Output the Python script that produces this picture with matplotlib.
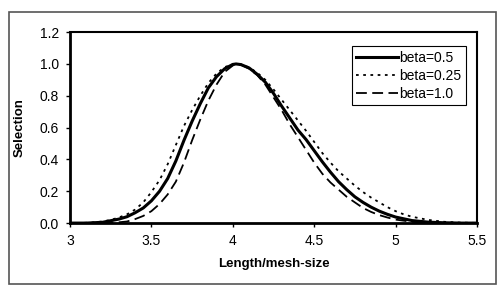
import matplotlib
import matplotlib.pyplot as plt
from matplotlib.patches import Rectangle

matplotlib.use("Agg")
plt.rcParams["font.family"] = ["Liberation Sans", "DejaVu Sans"]

# beta=0.5 (solid)
x_solid = [3.0, 3.1, 3.2, 3.3, 3.35, 3.4, 3.45, 3.5, 3.55, 3.6, 3.65, 3.7, 3.75, 3.8,
           3.85, 3.9, 3.95, 4.0, 4.02, 4.05, 4.1, 4.15, 4.2, 4.25, 4.3, 4.35, 4.4,
           4.45, 4.5, 4.55, 4.6, 4.65, 4.7, 4.75, 4.8, 4.85, 4.9, 4.95, 5.0, 5.1,
           5.2, 5.3, 5.4, 5.5]
y_solid = [0.0, 0.0, 0.005, 0.025, 0.04, 0.065, 0.095, 0.14, 0.20, 0.28, 0.39, 0.52,
           0.64, 0.75, 0.85, 0.92, 0.97, 0.997, 1.0, 0.996, 0.975, 0.935, 0.885,
           0.815, 0.735, 0.66, 0.585, 0.525, 0.455, 0.385, 0.32, 0.26, 0.21, 0.165,
           0.13, 0.10, 0.075, 0.055, 0.038, 0.016, 0.006, 0.002, 0.0, 0.0]

# beta=0.25 (dotted)
x_dot = [3.0, 3.1, 3.15, 3.2, 3.25, 3.3, 3.35, 3.4, 3.45, 3.5, 3.55, 3.6, 3.65, 3.7,
         3.75, 3.8, 3.85, 3.9, 3.95, 4.0, 4.02, 4.05, 4.1, 4.15, 4.2, 4.25, 4.3,
         4.35, 4.4, 4.45, 4.5, 4.55, 4.6, 4.65, 4.7, 4.75, 4.8, 4.85, 4.9, 4.95,
         5.0, 5.05, 5.1, 5.2, 5.3, 5.4, 5.5]
y_dot = [0.0, 0.002, 0.005, 0.01, 0.02, 0.035, 0.055, 0.085, 0.13, 0.195, 0.27,
         0.37, 0.49, 0.61, 0.71, 0.80, 0.88, 0.94, 0.98, 0.998, 1.0, 0.997, 0.978,
         0.945, 0.90, 0.84, 0.775, 0.71, 0.645, 0.58, 0.51, 0.44, 0.38, 0.325,
         0.28, 0.235, 0.195, 0.16, 0.13, 0.10, 0.075, 0.055, 0.04, 0.02, 0.008,
         0.003, 0.001]

# beta=1.0 (dashed)
x_dash = [3.0, 3.2, 3.3, 3.35, 3.4, 3.45, 3.5, 3.55, 3.6, 3.65, 3.7, 3.75, 3.8,
          3.85, 3.9, 3.95, 4.0, 4.02, 4.05, 4.1, 4.15, 4.2, 4.25, 4.3, 4.35, 4.4,
          4.45, 4.5, 4.55, 4.6, 4.65, 4.7, 4.75, 4.8, 4.85, 4.9, 4.95, 5.0, 5.1,
          5.2, 5.3, 5.5]
y_dash = [0.0, 0.0, 0.005, 0.01, 0.025, 0.045, 0.075, 0.12, 0.18, 0.26, 0.38,
          0.52, 0.65, 0.77, 0.87, 0.95, 0.99, 1.0, 0.995, 0.97, 0.93, 0.87, 0.79,
          0.71, 0.62, 0.54, 0.46, 0.38, 0.31, 0.255, 0.21, 0.165, 0.13, 0.095,
          0.07, 0.05, 0.035, 0.022, 0.008, 0.002, 0.0, 0.0]

x_ticks = [3, 3.5, 4, 4.5, 5, 5.5]
x_tick_labels = ["3", "3.5", "4", "4.5", "5", "5.5"]
y_ticks = [0.0, 0.2, 0.4, 0.6, 0.8, 1.0, 1.2]

fig = plt.figure(figsize=(5.0, 2.92), dpi=100)
ax = fig.add_axes([0.14, 0.236, 0.814, 0.654])

ax.plot(x_solid, y_solid, color="black", lw=2.2, ls="-", label="beta=0.5")
ax.plot(x_dot, y_dot, color="black", lw=1.3, ls=(0, (1.5, 2.5)), label="beta=0.25")
ax.plot(x_dash, y_dash, color="black", lw=1.3, ls=(0, (6, 3)), label="beta=1.0")

ax.set_xlim(3, 5.5)
ax.set_ylim(0, 1.2)
ax.set_xticks(x_ticks)
ax.set_xticklabels(x_tick_labels)
ax.set_yticks(y_ticks)
ax.set_yticklabels([f"{v:.1f}" for v in y_ticks])
ax.tick_params(direction="out", length=3, width=1, labelsize=10, pad=5)

for side in ["left", "bottom"]:
    ax.spines[side].set_linewidth(2.0)
for side in ["top", "right"]:
    ax.spines[side].set_linewidth(1.5)

ax.set_xlabel("Length/mesh-size", fontsize=9.5, fontweight="bold", labelpad=7)
ax.set_ylabel("Selection", fontsize=9.5, fontweight="bold", labelpad=10)

leg = ax.legend(loc="upper right", bbox_to_anchor=(0.972, 0.925), fontsize=10,
                handlelength=3.0, handletextpad=0.1, borderpad=0.3,
                labelspacing=0.3, fancybox=False, framealpha=1, borderaxespad=0)
leg.get_frame().set_edgecolor("black")
leg.get_frame().set_linewidth(0.8)

# outer chart border
fig.patches.append(Rectangle((0.018, 0.027), 0.974, 0.932, transform=fig.transFigure,
                             fill=False, edgecolor="#555555", lw=1.2))

fig.savefig("out.png", dpi=100)
